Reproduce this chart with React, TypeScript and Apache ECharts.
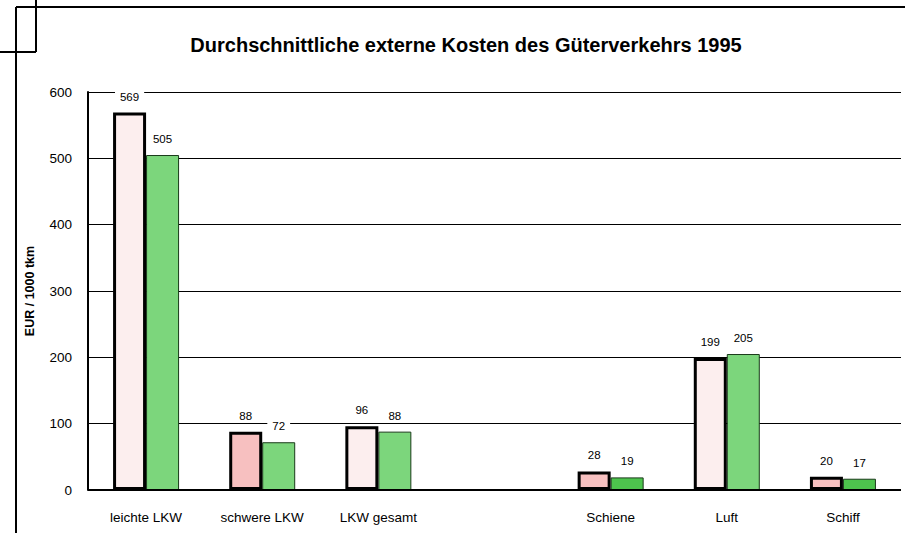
import React, { useEffect, useRef } from "react";
import * as echarts from "echarts";

const categories = ["leichte LKW", "schwere LKW", "LKW gesamt", "", "Schiene", "Luft", "Schiff"];
const seriesA = [569, 88, 96, null, 28, 199, 20];
const seriesB = [505, 72, 88, null, 19, 205, 17];
const colorsA = ["#FCEEEE", "#F7C0C0", "#FCEEEE", "#FCEEEE", "#F7C0C0", "#FCEEEE", "#F7C0C0"];
const colorsB = ["#7CD67C", "#7CD67C", "#7CD67C", "#7CD67C", "#4DC44D", "#7CD67C", "#4DC44D"];
const yTicks = [0, 100, 200, 300, 400, 500, 600];

const FONT = "'Liberation Sans', Arial, sans-serif";

export default function App() {
  const ref = useRef<HTMLDivElement>(null);
  useEffect(() => {
    if (!ref.current) return;
    const chart = echarts.init(ref.current, null, { renderer: "svg" });
    const label = {
      show: true,
      position: "top",
      distance: 9,
      fontSize: 11.5,
      fontFamily: FONT,
      color: "#000",
      backgroundColor: "#fff",
      padding: [1, 5],
    };
    chart.setOption({
      animation: false,
      backgroundColor: "#fff",
      title: {
        text: "Durchschnittliche externe Kosten des Güterverkehrs 1995",
        left: 461,
        top: 30,
        textAlign: "center",
        textStyle: { fontSize: 20, fontWeight: "bold", fontFamily: FONT, color: "#000" },
      },
      graphic: [
        { type: "line", shape: { x1: 16, y1: 7, x2: 905, y2: 7 }, style: { stroke: "#000", lineWidth: 2 } },
        { type: "line", shape: { x1: 16, y1: 7, x2: 16, y2: 533 }, style: { stroke: "#000", lineWidth: 2 } },
        { type: "line", shape: { x1: 36, y1: 0, x2: 36, y2: 52 }, style: { stroke: "#000", lineWidth: 2 } },
        { type: "line", shape: { x1: 0, y1: 52, x2: 36, y2: 52 }, style: { stroke: "#000", lineWidth: 2 } },
      ],
      grid: { left: 88, right: 4, top: 92, bottom: 43, containLabel: false },
      xAxis: {
        type: "category",
        data: categories,
        axisLine: { show: false },
        axisTick: { show: false },
        axisLabel: { fontSize: 13.5, fontFamily: FONT, color: "#000", margin: 20 },
      },
      yAxis: {
        type: "value",
        min: 0,
        max: 600,
        interval: 100,
        name: "EUR / 1000 tkm",
        nameLocation: "middle",
        nameGap: 52,
        nameTextStyle: { fontSize: 12.5, fontWeight: "bold", fontFamily: FONT, color: "#000" },
        axisLine: { show: true, lineStyle: { color: "#000", width: 2 } },
        axisTick: { show: false },
        axisLabel: {
          fontSize: 13.5,
          fontFamily: FONT,
          color: "#000",
          margin: 16,
          formatter: (v: number) => (yTicks.includes(v) ? String(v) : ""),
        },
        splitLine: { show: true, lineStyle: { color: "#000", width: 1 } },
      },
      series: [
        {
          type: "bar",
          barWidth: 33,
          barGap: "0%",
          data: seriesA.map((v, i) => ({
            value: v == null ? "-" : v,
            itemStyle: { color: colorsA[i], borderColor: "#000", borderWidth: 3 },
          })),
          label,
          z: 3,
        },
        {
          type: "bar",
          barWidth: 33,
          barGap: "0%",
          data: seriesB.map((v, i) => ({
            value: v == null ? "-" : v,
            itemStyle: { color: colorsB[i], borderColor: "#1a3a1a", borderWidth: 1 },
          })),
          label,
          z: 2,
        },
        {
          type: "line",
          data: [],
          markLine: {
            silent: true,
            symbol: "none",
            label: { show: false },
            lineStyle: { color: "#000", width: 2, type: "solid" },
            data: [{ yAxis: 0 }],
          },
        },
      ],
    });
    return () => chart.dispose();
  }, []);
  return <div ref={ref} style={{ width: 905, height: 533, position: "absolute", left: 0, top: 0 }} />;
}
